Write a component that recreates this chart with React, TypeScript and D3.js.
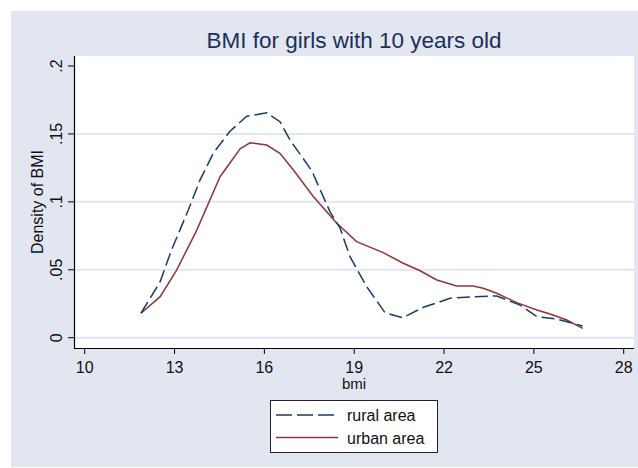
import * as d3 from 'd3'

// kernel density estimates (bmi, density)
const ruralBmi = [11.88, 12.52, 12.9, 13.46, 13.85, 14.3, 14.85, 15.41, 16.08, 16.52, 16.86, 17.58, 18.19, 18.53, 18.86, 19.42, 20.03, 20.62, 21.31, 21.87, 22.2, 22.98, 23.76, 24.54, 25.1, 25.76, 26.63]
const ruralDensity = [0.018, 0.0412, 0.0646, 0.094, 0.116, 0.136, 0.152, 0.163, 0.1656, 0.159, 0.1454, 0.123, 0.0928, 0.0805, 0.0596, 0.0375, 0.0184, 0.0147, 0.0224, 0.0265, 0.029, 0.0302, 0.0307, 0.024, 0.0155, 0.0138, 0.0086]

const urbanBmi = [11.88, 12.52, 13.07, 13.74, 14.52, 15.19, 15.52, 16.08, 16.52, 16.97, 17.64, 18.42, 19.08, 19.97, 20.64, 21.2, 21.76, 22.42, 22.98, 23.31, 23.76, 24.43, 25.1, 25.54, 26.1, 26.63]
const urbanDensity = [0.018, 0.0302, 0.0498, 0.079, 0.1185, 0.139, 0.1435, 0.1418, 0.1357, 0.1234, 0.1038, 0.0842, 0.0707, 0.0626, 0.0548, 0.0493, 0.0425, 0.038, 0.038, 0.0364, 0.0327, 0.0258, 0.0204, 0.0174, 0.013, 0.0069]

const xTicks = [10, 13, 16, 19, 22, 25, 28]
const yTicks = [0, 0.05, 0.1, 0.15, 0.2]
const yTickLabels = ['0', '.05', '.1', '.15', '.2']
const gridValues = [0, 0.05, 0.1, 0.15]

const W = 638
const H = 468
const plot = { left: 74, right: 634, top: 56, bottom: 348 }
const FONT = 'Arial, "Liberation Sans", sans-serif'
const NAVY = '#1a3a6b'
const MAROON = '#90353b'
const FS = 16

export default function App() {
  const x = d3.scaleLinear().domain([10, 28]).range([84.7, 623.7])
  const y = d3.scaleLinear().domain([0, 0.2]).range([337.7, 66])

  const line = d3.line<[number, number]>()
    .x(d => x(d[0]))
    .y(d => y(d[1]))

  const rural = ruralBmi.map((b, i) => [b, ruralDensity[i]] as [number, number])
  const urban = urbanBmi.map((b, i) => [b, urbanDensity[i]] as [number, number])

  return (
    <div style={{ position: 'absolute', left: 0, top: 0 }}>
      <svg width={W} height={H} style={{ display: 'block', fontFamily: FONT }}>
        <rect x={0} y={0} width={W} height={H} fill="#ffffff" />
        <rect x={11} y={11} width={W - 11} height={H - 12} fill="#e1e6f0" />

        {/* title */}
        <text x={354} y={48} textAnchor="middle" fontSize={22.5} fill="#1c2f5c">
          BMI for girls with 10 years old
        </text>

        {/* plot region */}
        <rect x={plot.left} y={plot.top} width={plot.right - plot.left} height={plot.bottom - plot.top} fill="#ffffff" />

        {gridValues.map(v => (
          <line key={v} x1={plot.left} x2={plot.right} y1={y(v)} y2={y(v)} stroke="#e1e7f1" strokeWidth={2} />
        ))}

        {/* y axis */}
        <line x1={plot.left + 0.5} x2={plot.left + 0.5} y1={plot.top} y2={plot.bottom + 0.5} stroke="#000" strokeWidth={1.2} />
        {yTicks.map((v, i) => (
          <g key={v}>
            <line x1={68} x2={plot.left} y1={y(v)} y2={y(v)} stroke="#000" strokeWidth={1} />
            <text
              transform={`translate(62,${y(v)}) rotate(-90)`}
              textAnchor="middle"
              fontSize={FS}
              fill="#111"
            >
              {yTickLabels[i]}
            </text>
          </g>
        ))}
        <text transform="translate(43,202) rotate(-90)" textAnchor="middle" fontSize={FS} fill="#111">
          Density of BMI
        </text>

        {/* x axis */}
        <line x1={plot.left} x2={plot.right} y1={plot.bottom + 0.5} y2={plot.bottom + 0.5} stroke="#000" strokeWidth={1.2} />
        {xTicks.map(v => (
          <g key={v}>
            <line x1={x(v)} x2={x(v)} y1={plot.bottom} y2={plot.bottom + 6} stroke="#000" strokeWidth={1} />
            <text x={x(v)} y={372.5} textAnchor="middle" fontSize={FS} fill="#111">
              {v}
            </text>
          </g>
        ))}
        <text x={354} y={389} textAnchor="middle" fontSize={15} fill="#111">
          bmi
        </text>

        {/* density curves */}
        <path d={line(urban) ?? ''} fill="none" stroke={MAROON} strokeWidth={1.5} />
        <path d={line(rural) ?? ''} fill="none" stroke={NAVY} strokeWidth={1.5} strokeDasharray="13,5" />

        {/* legend */}
        <rect x={270.5} y={400.5} width={167} height={52} fill="#ffffff" stroke="#222" strokeWidth={1} />
        <line x1={276} x2={338} y1={415} y2={415} stroke={NAVY} strokeWidth={1.5} strokeDasharray="16,5" />
        <text x={347} y={421} fontSize={FS} fill="#111">rural area</text>
        <line x1={276} x2={338} y1={437.5} y2={437.5} stroke={MAROON} strokeWidth={1.5} />
        <text x={347} y={443.5} fontSize={FS} fill="#111">urban area</text>
      </svg>
    </div>
  )
}
